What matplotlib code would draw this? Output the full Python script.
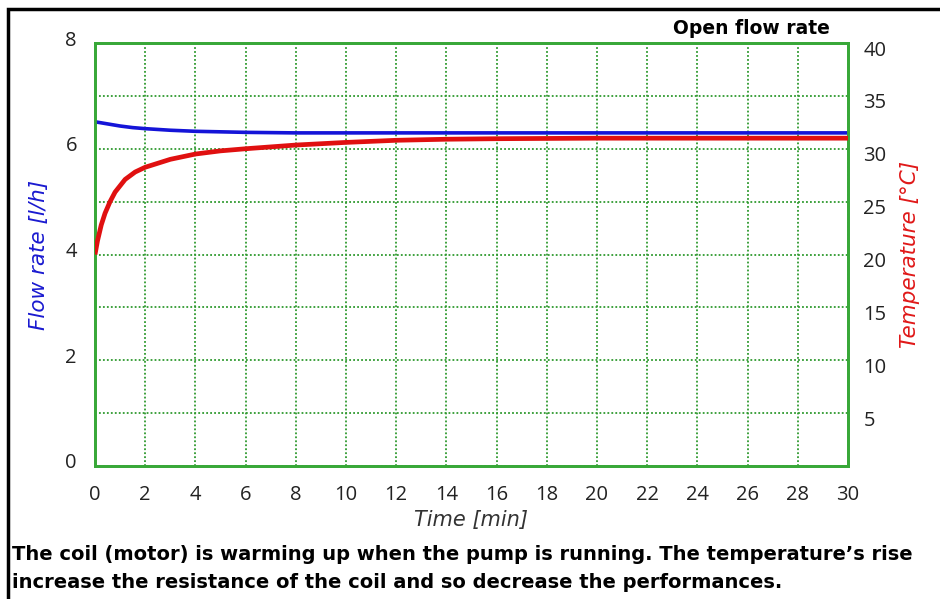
import matplotlib.pyplot as plt
import matplotlib.transforms as mtransforms
from matplotlib.patches import Rectangle

# time in minutes
t_flow = [0, 0.5, 1, 1.5, 2, 3, 4, 5, 6, 8, 10, 12, 15, 20, 25, 30]
flow = [6.51, 6.47, 6.43, 6.40, 6.38, 6.35, 6.33, 6.32, 6.31, 6.30, 6.30, 6.30, 6.30, 6.30, 6.30, 6.30]

t_temp = [0, 0.1, 0.25, 0.4, 0.6, 0.8, 1.2, 1.6, 2, 3, 4, 5, 6, 8, 10, 12, 14, 16, 20, 25, 30]
temp = [20.0, 21.3, 22.8, 23.9, 25.0, 25.9, 27.1, 27.8, 28.25, 29.0, 29.5, 29.8, 30.0,
        30.35, 30.6, 30.8, 30.9, 30.95, 31.0, 31.0, 31.0]

x_ticks = list(range(0, 31, 2))
flow_ticks = [0, 2, 4, 6, 8]
temp_ticks = [5, 10, 15, 20, 25, 30, 35, 40]

plt.rcParams['font.family'] = ['Open Sans', 'DejaVu Sans']

green = '#38a838'
grid_green = '#2f9a2f'
label_font = 'DejaVu Sans'

fig = plt.figure(figsize=(9.4, 5.99), dpi=100)
ax = fig.add_axes([95 / 940, 133 / 599, 753 / 940, 423 / 599])
ax2 = ax.twinx()

ax.plot(t_flow, flow, color='#1414d8', lw=2.6, zorder=4, solid_capstyle='butt')
ax2.plot(t_temp, temp, color='#e01010', lw=3.4, zorder=3, solid_capstyle='butt')

ax.set_xlim(0, 30)
ax.set_ylim(0, 8)
ax2.set_ylim(0, 40)
ax.set_xticks(x_ticks)
ax.set_yticks(flow_ticks)
ax.set_yticks([1, 3, 5, 7], minor=True)
ax2.set_yticks(temp_ticks)

ax.grid(True, which='both', ls=(0, (1, 1.2)), lw=1.3, color=grid_green)
ax.set_axisbelow(True)

for a in (ax, ax2):
    for s in a.spines.values():
        s.set_color(green)
        s.set_linewidth(2)
    a.tick_params(length=0, which='both', labelsize=14.5, labelcolor='#222222')
ax.tick_params(axis='y', pad=13)
ax.tick_params(axis='x', pad=14)
ax2.tick_params(axis='y', pad=11)

# small vertical offsets of the tick labels, as in the original
up = mtransforms.ScaledTranslation(0, 5 / 100, fig.dpi_scale_trans)
down = mtransforms.ScaledTranslation(0, -5 / 100, fig.dpi_scale_trans)
for lab in ax.get_yticklabels():
    lab.set_transform(lab.get_transform() + up)
for lab in ax2.get_yticklabels():
    lab.set_transform(lab.get_transform() + down)

ax.set_xlabel('Time [min]', fontsize=15, style='italic', family=label_font,
              color='#333333', labelpad=3)
ax.set_ylabel('Flow rate [l/h]', fontsize=15.5, style='italic', family=label_font,
              color='#1a1ad0', labelpad=12)
ax2.set_ylabel('Temperature [°C]', fontsize=15.5, style='italic', family=label_font,
               color='#e01818', labelpad=10)

fig.text(830 / 940, 1 - 28 / 599, 'Open flow rate', ha='right', va='center',
         fontsize=13.5, fontweight='bold', family=label_font, color='black')

fig.text(12 / 940, 1 - 555 / 599,
         'The coil (motor) is warming up when the pump is running. The temperature\u2019s rise',
         ha='left', va='center', fontsize=14, fontweight='bold', family=label_font,
         color='black')
fig.text(12 / 940, 1 - 582 / 599,
         'increase the resistance of the coil and so decrease the performances.',
         ha='left', va='center', fontsize=14, fontweight='bold', family=label_font,
         color='black')

# black frame round the whole figure (cut at right and bottom)
fig.patches.append(Rectangle((8 / 940, -0.05), 1.1, 1 - 9 / 599 + 0.05,
                             transform=fig.transFigure, fill=False,
                             edgecolor='black', lw=2.5))

fig.savefig('out.png', dpi=100)
